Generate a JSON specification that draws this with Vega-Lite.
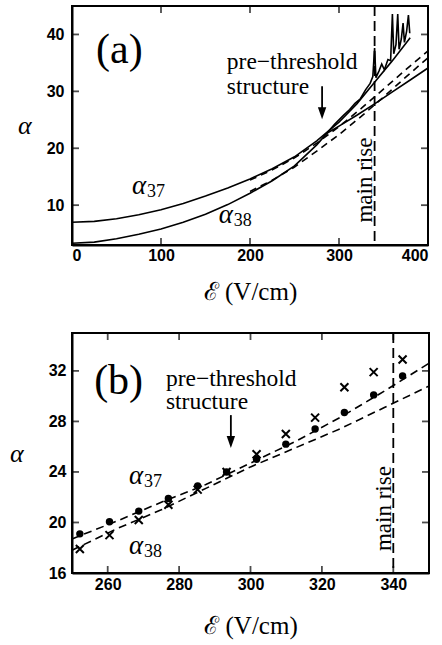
{
  "$schema": "https://vega.github.io/schema/vega-lite/v6.json",
  "padding": {"top": 4, "left": 8, "right": 2, "bottom": 2},
  "background": "white",
  "spacing": 26,
  "config": {
    "view": {"stroke": "black", "strokeWidth": 2},
    "axis": {
      "labelFont": "Liberation Sans", "labelFontWeight": "bold", "labelFontSize": 16, "labelColor": "black",
      "domainColor": "black", "domainWidth": 2, "tickSize": -7, "tickColor": "transparent", "grid": false,
      "titleFont": "Liberation Serif", "titleFontWeight": "normal", "titleColor": "black"
    },
    "tick": {"color": "black", "thickness": 1.8, "size": 7},
    "text": {"font": "Liberation Serif", "color": "black"}
  },
  "datasets": {
    "curvesA": [
      {"E": 0, "alpha": 7.0, "series": "a37"}, {"E": 25, "alpha": 7.15, "series": "a37"}, {"E": 50, "alpha": 7.6, "series": "a37"},
      {"E": 75, "alpha": 8.3, "series": "a37"}, {"E": 100, "alpha": 9.2, "series": "a37"}, {"E": 125, "alpha": 10.3, "series": "a37"},
      {"E": 150, "alpha": 11.6, "series": "a37"}, {"E": 175, "alpha": 13.0, "series": "a37"}, {"E": 200, "alpha": 14.6, "series": "a37"},
      {"E": 225, "alpha": 16.4, "series": "a37"}, {"E": 250, "alpha": 18.5, "series": "a37"}, {"E": 275, "alpha": 21.3, "series": "a37"},
      {"E": 300, "alpha": 24.6, "series": "a37"}, {"E": 320, "alpha": 27.8, "series": "a37"}, {"E": 340, "alpha": 31.6, "series": "a37"},
      {"E": 360, "alpha": 35.4, "series": "a37"}, {"E": 380, "alpha": 39.4, "series": "a37"},
      {"E": 0, "alpha": 3.3, "series": "a38"}, {"E": 25, "alpha": 3.5, "series": "a38"}, {"E": 50, "alpha": 4.1, "series": "a38"},
      {"E": 75, "alpha": 4.9, "series": "a38"}, {"E": 100, "alpha": 5.8, "series": "a38"}, {"E": 125, "alpha": 7.0, "series": "a38"},
      {"E": 150, "alpha": 8.4, "series": "a38"}, {"E": 175, "alpha": 10.1, "series": "a38"}, {"E": 200, "alpha": 12.1, "series": "a38"},
      {"E": 225, "alpha": 14.3, "series": "a38"}, {"E": 250, "alpha": 16.9, "series": "a38"}, {"E": 275, "alpha": 20.6, "series": "a38"},
      {"E": 285, "alpha": 22.4, "series": "a38"}, {"E": 295, "alpha": 24.2, "series": "a38"}, {"E": 305, "alpha": 25.8, "series": "a38"},
      {"E": 312, "alpha": 26.8, "series": "a38"}, {"E": 318, "alpha": 27.9, "series": "a38"}, {"E": 324, "alpha": 28.7, "series": "a38"},
      {"E": 330, "alpha": 30.3, "series": "a38"}, {"E": 335, "alpha": 31.4, "series": "a38"}, {"E": 338, "alpha": 32.6, "series": "a38"},
      {"E": 340, "alpha": 37.6, "series": "a38"}, {"E": 341.5, "alpha": 32.4, "series": "a38"}, {"E": 345, "alpha": 33.6, "series": "a38"},
      {"E": 348, "alpha": 34.8, "series": "a38"}, {"E": 351, "alpha": 33.8, "series": "a38"}, {"E": 355, "alpha": 35.6, "series": "a38"},
      {"E": 358, "alpha": 35.4, "series": "a38"}, {"E": 360, "alpha": 43.6, "series": "a38"}, {"E": 361.5, "alpha": 36.6, "series": "a38"},
      {"E": 364, "alpha": 38.2, "series": "a38"}, {"E": 366, "alpha": 43.6, "series": "a38"}, {"E": 367.5, "alpha": 37.4, "series": "a38"},
      {"E": 370, "alpha": 39.2, "series": "a38"}, {"E": 372, "alpha": 42.0, "series": "a38"}, {"E": 373.5, "alpha": 38.6, "series": "a38"},
      {"E": 376, "alpha": 40.6, "series": "a38"}, {"E": 378, "alpha": 43.4, "series": "a38"}, {"E": 379.5, "alpha": 40.2, "series": "a38"},
      {"E": 285, "alpha": 22.5, "series": "low"}, {"E": 300, "alpha": 23.9, "series": "low"}, {"E": 320, "alpha": 25.8, "series": "low"},
      {"E": 340, "alpha": 27.8, "series": "low"}, {"E": 360, "alpha": 29.9, "series": "low"}, {"E": 380, "alpha": 32.0, "series": "low"},
      {"E": 400, "alpha": 34.1, "series": "low"}
    ],
    "dashA": [
      {"E": 200, "alpha": 14.4, "series": "d1"}, {"E": 225, "alpha": 16.2, "series": "d1"}, {"E": 250, "alpha": 18.3, "series": "d1"},
      {"E": 275, "alpha": 20.9, "series": "d1"}, {"E": 300, "alpha": 23.8, "series": "d1"}, {"E": 325, "alpha": 27.0, "series": "d1"},
      {"E": 350, "alpha": 30.4, "series": "d1"}, {"E": 375, "alpha": 33.8, "series": "d1"}, {"E": 400, "alpha": 37.1, "series": "d1"},
      {"E": 200, "alpha": 12.4, "series": "d2"}, {"E": 225, "alpha": 14.4, "series": "d2"}, {"E": 250, "alpha": 16.7, "series": "d2"},
      {"E": 275, "alpha": 19.5, "series": "d2"}, {"E": 300, "alpha": 22.4, "series": "d2"}, {"E": 325, "alpha": 25.6, "series": "d2"},
      {"E": 350, "alpha": 29.0, "series": "d2"}, {"E": 375, "alpha": 32.5, "series": "d2"}, {"E": 400, "alpha": 35.9, "series": "d2"}
    ],
    "dots": [
      {"E": 252.2, "alpha": 19.1}, {"E": 260.5, "alpha": 20.06}, {"E": 268.7, "alpha": 20.9}, {"E": 277.0, "alpha": 21.9},
      {"E": 285.2, "alpha": 22.9}, {"E": 293.3, "alpha": 24.0}, {"E": 301.7, "alpha": 25.0}, {"E": 309.9, "alpha": 26.2},
      {"E": 318.1, "alpha": 27.4}, {"E": 326.3, "alpha": 28.7}, {"E": 334.5, "alpha": 30.1}, {"E": 342.6, "alpha": 31.6}
    ],
    "crosses": [
      {"E": 252.2, "alpha": 17.9}, {"E": 260.5, "alpha": 19.0}, {"E": 268.7, "alpha": 20.2}, {"E": 277.0, "alpha": 21.4},
      {"E": 285.2, "alpha": 22.6}, {"E": 293.3, "alpha": 24.0}, {"E": 301.7, "alpha": 25.4}, {"E": 309.9, "alpha": 27.0},
      {"E": 318.1, "alpha": 28.3}, {"E": 326.3, "alpha": 30.7}, {"E": 334.5, "alpha": 31.9}, {"E": 342.6, "alpha": 32.9}
    ],
    "dashB": [
      {"E": 250, "alpha": 18.7, "series": "u"}, {"E": 262.5, "alpha": 20.1, "series": "u"}, {"E": 275, "alpha": 21.6, "series": "u"},
      {"E": 287.5, "alpha": 23.0, "series": "u"}, {"E": 300, "alpha": 24.7, "series": "u"}, {"E": 312.5, "alpha": 26.4, "series": "u"},
      {"E": 325, "alpha": 28.3, "series": "u"}, {"E": 337.5, "alpha": 30.4, "series": "u"}, {"E": 350, "alpha": 32.6, "series": "u"},
      {"E": 250, "alpha": 17.8, "series": "l"}, {"E": 262.5, "alpha": 19.5, "series": "l"}, {"E": 275, "alpha": 21.0, "series": "l"},
      {"E": 287.5, "alpha": 22.7, "series": "l"}, {"E": 300, "alpha": 24.4, "series": "l"}, {"E": 312.5, "alpha": 25.9, "series": "l"},
      {"E": 325, "alpha": 27.4, "series": "l"}, {"E": 337.5, "alpha": 29.1, "series": "l"}, {"E": 350, "alpha": 30.8, "series": "l"}
    ],
    "ticksAy": [{"v": 10, "lo": 0, "hi": 400}, {"v": 20, "lo": 0, "hi": 400}, {"v": 30, "lo": 0, "hi": 400}, {"v": 40, "lo": 0, "hi": 400}],
    "ticksAx": [{"v": 100, "lo": 3, "hi": 45}, {"v": 200, "lo": 3, "hi": 45}, {"v": 300, "lo": 3, "hi": 45}],
    "ticksBy": [{"v": 20, "lo": 250, "hi": 350}, {"v": 24, "lo": 250, "hi": 350}, {"v": 28, "lo": 250, "hi": 350}, {"v": 32, "lo": 250, "hi": 350}],
    "ticksBx": [{"v": 260, "lo": 16, "hi": 35}, {"v": 280, "lo": 16, "hi": 35}, {"v": 300, "lo": 16, "hi": 35}, {"v": 320, "lo": 16, "hi": 35}, {"v": 340, "lo": 16, "hi": 35}]
  },
  "vconcat": [
    {
      "width": 356, "height": 239,
      "resolve": {"axis": {"x": "independent", "y": "independent"}},
      "layer": [
        {
          "data": {"name": "curvesA"},
          "mark": {"type": "line", "color": "black", "strokeWidth": 1.6},
          "encoding": {
            "x": {"field": "E", "type": "quantitative", "scale": {"domain": [0, 400], "nice": false},
                  "axis": {"orient": "bottom", "values": [0, 100, 200, 300, 400], "labelPadding": 9, "title": "ℰ (V/cm)", "titleFontSize": 25, "titlePadding": 16}},
            "y": {"field": "alpha", "type": "quantitative", "scale": {"domain": [3, 45], "nice": false, "zero": false},
                  "axis": {"orient": "left", "values": [10, 20, 30, 40], "labelPadding": 15, "title": "α", "titleAngle": 0, "titleAlign": "right", "titleBaseline": "middle", "titleFontSize": 26, "titleFontStyle": "italic", "titlePadding": 15}},
            "detail": {"field": "series"}
          }
        },
        {
          "data": {"name": "ticksAy"},
          "mark": {"type": "tick", "orient": "horizontal", "xOffset": 3.5},
          "encoding": {"x": {"field": "lo", "type": "quantitative", "axis": null}, "y": {"field": "v", "type": "quantitative", "axis": null}}
        },
        {
          "data": {"name": "ticksAy"},
          "mark": {"type": "tick", "orient": "horizontal", "xOffset": -3.5},
          "encoding": {"x": {"field": "hi", "type": "quantitative", "axis": null}, "y": {"field": "v", "type": "quantitative", "axis": null}}
        },
        {
          "data": {"name": "ticksAx"},
          "mark": {"type": "tick", "orient": "vertical", "yOffset": -3.5},
          "encoding": {"x": {"field": "v", "type": "quantitative", "axis": null}, "y": {"field": "lo", "type": "quantitative", "axis": null}}
        },
        {
          "data": {"name": "ticksAx"},
          "mark": {"type": "tick", "orient": "vertical", "yOffset": 3.5},
          "encoding": {"x": {"field": "v", "type": "quantitative", "axis": null}, "y": {"field": "hi", "type": "quantitative", "axis": null}}
        },
        {
          "data": {"name": "dashA"},
          "mark": {"type": "line", "color": "black", "strokeWidth": 1.6, "strokeDash": [7, 5]},
          "encoding": {
            "x": {"field": "E", "type": "quantitative", "axis": null},
            "y": {"field": "alpha", "type": "quantitative", "axis": null},
            "detail": {"field": "series"}
          }
        },
        {
          "data": {"values": [{"E": 340}]},
          "mark": {"type": "rule", "color": "black", "strokeWidth": 1.8, "strokeDash": [10, 5]},
          "encoding": {"x": {"field": "E", "type": "quantitative", "axis": null}}
        },
        {
          "data": {"values": [{"E": 27, "alpha": 37.2, "label": "(a)"}]},
          "mark": {"type": "text", "fontSize": 42, "align": "left", "baseline": "middle"},
          "encoding": {"x": {"field": "E", "type": "quantitative", "axis": null}, "y": {"field": "alpha", "type": "quantitative", "axis": null}, "text": {"field": "label"}}
        },
        {
          "data": {"values": [{"E": 174, "alpha": 33.9, "label": "pre−threshold\nstructure"}]},
          "mark": {"type": "text", "fontSize": 23.5, "align": "left", "baseline": "alphabetic", "lineBreak": "\n", "lineHeight": 25},
          "encoding": {"x": {"field": "E", "type": "quantitative", "axis": null}, "y": {"field": "alpha", "type": "quantitative", "axis": null}, "text": {"field": "label"}}
        },
        {
          "data": {"values": [{"E": 281, "top": 30.9, "bot": 26.5}]},
          "mark": {"type": "rule", "color": "black", "strokeWidth": 1.8},
          "encoding": {"x": {"field": "E", "type": "quantitative", "axis": null}, "y": {"field": "top", "type": "quantitative", "axis": null}, "y2": {"field": "bot"}}
        },
        {
          "data": {"values": [{"E": 281, "alpha": 25.1}]},
          "mark": {"type": "point", "shape": "M-0.35,-1L0.35,-1L0,0Z", "size": 576, "filled": true, "color": "black", "opacity": 1},
          "encoding": {"x": {"field": "E", "type": "quantitative", "axis": null}, "y": {"field": "alpha", "type": "quantitative", "axis": null}}
        },
        {
          "data": {"values": [{"E": 329, "alpha": 14.4, "label": "main rise"}]},
          "mark": {"type": "text", "fontSize": 23, "angle": 270, "align": "center", "baseline": "middle"},
          "encoding": {"x": {"field": "E", "type": "quantitative", "axis": null}, "y": {"field": "alpha", "type": "quantitative", "axis": null}, "text": {"field": "label"}}
        },
        {
          "data": {"values": [{"E": 67.4, "alpha": 13.4, "sub": "37"}, {"E": 165, "alpha": 8.3, "sub": "38"}]},
          "mark": {"type": "text", "fontSize": 27, "fontStyle": "italic", "align": "left", "baseline": "middle", "text": "α"},
          "encoding": {"x": {"field": "E", "type": "quantitative", "axis": null}, "y": {"field": "alpha", "type": "quantitative", "axis": null}}
        },
        {
          "data": {"values": [{"E": 67.4, "alpha": 13.4, "sub": "37"}, {"E": 165, "alpha": 8.3, "sub": "38"}]},
          "mark": {"type": "text", "fontSize": 18, "align": "left", "baseline": "middle", "dx": 15, "dy": 6},
          "encoding": {"x": {"field": "E", "type": "quantitative", "axis": null}, "y": {"field": "alpha", "type": "quantitative", "axis": null}, "text": {"field": "sub"}}
        }
      ]
    },
    {
      "width": 357, "height": 240,
      "resolve": {"axis": {"x": "independent", "y": "independent"}},
      "layer": [
        {
          "data": {"name": "dots"},
          "mark": {"type": "point", "shape": "circle", "filled": true, "size": 55, "color": "black", "opacity": 1},
          "encoding": {
            "x": {"field": "E", "type": "quantitative", "scale": {"domain": [250, 350], "nice": false, "zero": false},
                  "axis": {"orient": "bottom", "values": [260, 280, 300, 320, 340], "labelPadding": 10, "title": "ℰ (V/cm)", "titleFontSize": 25, "titlePadding": 21}},
            "y": {"field": "alpha", "type": "quantitative", "scale": {"domain": [16, 35], "nice": false, "zero": false},
                  "axis": {"orient": "left", "values": [16, 20, 24, 28, 32], "labelPadding": 13, "title": "α", "titleAngle": 0, "titleAlign": "right", "titleBaseline": "middle", "titleFontSize": 26, "titleFontStyle": "italic", "titlePadding": 25}}
          }
        },
        {
          "data": {"name": "ticksBy"},
          "mark": {"type": "tick", "orient": "horizontal", "xOffset": 3.5},
          "encoding": {"x": {"field": "lo", "type": "quantitative", "axis": null}, "y": {"field": "v", "type": "quantitative", "axis": null}}
        },
        {
          "data": {"name": "ticksBy"},
          "mark": {"type": "tick", "orient": "horizontal", "xOffset": -3.5},
          "encoding": {"x": {"field": "hi", "type": "quantitative", "axis": null}, "y": {"field": "v", "type": "quantitative", "axis": null}}
        },
        {
          "data": {"name": "ticksBx"},
          "mark": {"type": "tick", "orient": "vertical", "yOffset": -3.5},
          "encoding": {"x": {"field": "v", "type": "quantitative", "axis": null}, "y": {"field": "lo", "type": "quantitative", "axis": null}}
        },
        {
          "data": {"name": "ticksBx"},
          "mark": {"type": "tick", "orient": "vertical", "yOffset": 3.5},
          "encoding": {"x": {"field": "v", "type": "quantitative", "axis": null}, "y": {"field": "hi", "type": "quantitative", "axis": null}}
        },
        {
          "data": {"name": "crosses"},
          "mark": {"type": "point", "shape": "M-1,-1L1,1M-1,1L1,-1", "filled": false, "size": 64, "strokeWidth": 2, "color": "black", "opacity": 1},
          "encoding": {"x": {"field": "E", "type": "quantitative", "axis": null}, "y": {"field": "alpha", "type": "quantitative", "axis": null}}
        },
        {
          "data": {"name": "dashB"},
          "mark": {"type": "line", "color": "black", "strokeWidth": 1.6, "strokeDash": [8, 5]},
          "encoding": {
            "x": {"field": "E", "type": "quantitative", "axis": null},
            "y": {"field": "alpha", "type": "quantitative", "axis": null},
            "detail": {"field": "series"}
          }
        },
        {
          "data": {"values": [{"E": 340}]},
          "mark": {"type": "rule", "color": "black", "strokeWidth": 1.8, "strokeDash": [10, 5]},
          "encoding": {"x": {"field": "E", "type": "quantitative", "axis": null}}
        },
        {
          "data": {"values": [{"E": 256.2, "alpha": 31.2, "label": "(b)"}]},
          "mark": {"type": "text", "fontSize": 42, "align": "left", "baseline": "middle"},
          "encoding": {"x": {"field": "E", "type": "quantitative", "axis": null}, "y": {"field": "alpha", "type": "quantitative", "axis": null}, "text": {"field": "label"}}
        },
        {
          "data": {"values": [{"E": 276.3, "alpha": 30.8, "label": "pre−threshold\nstructure"}]},
          "mark": {"type": "text", "fontSize": 23.5, "align": "left", "baseline": "alphabetic", "lineBreak": "\n", "lineHeight": 23},
          "encoding": {"x": {"field": "E", "type": "quantitative", "axis": null}, "y": {"field": "alpha", "type": "quantitative", "axis": null}, "text": {"field": "label"}}
        },
        {
          "data": {"values": [{"E": 294.5, "top": 28.5, "bot": 26.6}]},
          "mark": {"type": "rule", "color": "black", "strokeWidth": 1.8},
          "encoding": {"x": {"field": "E", "type": "quantitative", "axis": null}, "y": {"field": "top", "type": "quantitative", "axis": null}, "y2": {"field": "bot"}}
        },
        {
          "data": {"values": [{"E": 294.5, "alpha": 25.9}]},
          "mark": {"type": "point", "shape": "M-0.35,-1L0.35,-1L0,0Z", "size": 576, "filled": true, "color": "black", "opacity": 1},
          "encoding": {"x": {"field": "E", "type": "quantitative", "axis": null}, "y": {"field": "alpha", "type": "quantitative", "axis": null}}
        },
        {
          "data": {"values": [{"E": 337.5, "alpha": 21.1, "label": "main rise"}]},
          "mark": {"type": "text", "fontSize": 23, "angle": 270, "align": "center", "baseline": "middle"},
          "encoding": {"x": {"field": "E", "type": "quantitative", "axis": null}, "y": {"field": "alpha", "type": "quantitative", "axis": null}, "text": {"field": "label"}}
        },
        {
          "data": {"values": [{"E": 266, "alpha": 23.7, "sub": "37"}, {"E": 266, "alpha": 18.1, "sub": "38"}]},
          "mark": {"type": "text", "fontSize": 27, "fontStyle": "italic", "align": "left", "baseline": "middle", "text": "α"},
          "encoding": {"x": {"field": "E", "type": "quantitative", "axis": null}, "y": {"field": "alpha", "type": "quantitative", "axis": null}}
        },
        {
          "data": {"values": [{"E": 266, "alpha": 23.7, "sub": "37"}, {"E": 266, "alpha": 18.1, "sub": "38"}]},
          "mark": {"type": "text", "fontSize": 18, "align": "left", "baseline": "middle", "dx": 15, "dy": 6},
          "encoding": {"x": {"field": "E", "type": "quantitative", "axis": null}, "y": {"field": "alpha", "type": "quantitative", "axis": null}, "text": {"field": "sub"}}
        }
      ]
    }
  ]
}
